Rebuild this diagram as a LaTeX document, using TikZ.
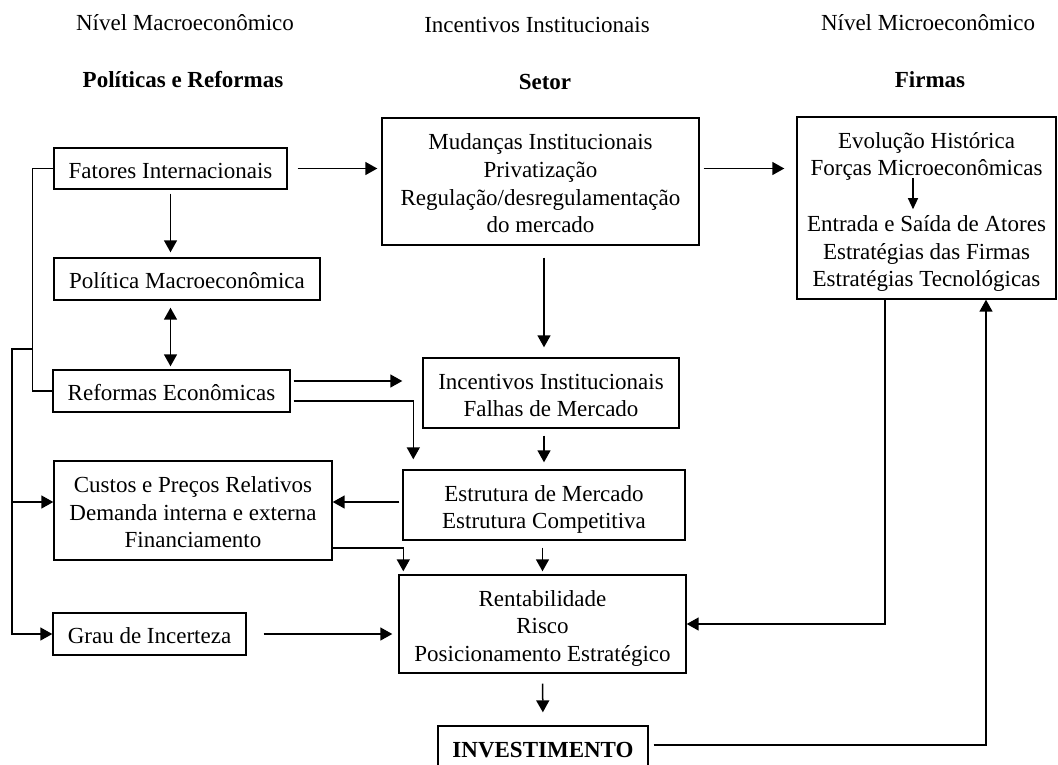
\documentclass[tikz,border=0pt]{standalone}
\usepackage{fontspec}
\setmainfont{Liberation Serif}
\usepackage{tikz}
\usetikzlibrary{arrows.meta, positioning, calc}
\usepackage{xcolor}
\definecolor{flowblack}{HTML}{000000}
\newcommand{\boxlines}[1]{\begin{tabular}{@{}c@{}}\rule{0pt}{28pt}#1\end{tabular}}

\begin{document}
\begin{tikzpicture}[
    x=1pt, y=-1pt,
    box/.style={
        rectangle,
        draw=flowblack,
        line width=1.4pt,
        inner sep=0pt,
        font=\fontsize{23}{27.6}\selectfont
    },
    plain/.style={
        inner sep=0pt,
        align=center,
        font=\fontsize{23}{27.6}\selectfont
    },
    heading/.style={
        inner sep=0pt,
        font=\fontsize{23}{27.6}\selectfont#1
    },
    link/.style={
        line width=1.4pt,
        draw=flowblack
    },
    arr/.style={
        -{Triangle[length=12pt, width=13pt]},
        line width=1.5pt,
        draw=flowblack
    },
    dbl/.style={
        {Triangle[length=12pt, width=13pt]}-{Triangle[length=12pt, width=13pt]},
        line width=1.5pt,
        draw=flowblack
    },
    smallarr/.style={
        -{Triangle[length=11pt, width=10pt]},
        line width=1.2pt,
        draw=flowblack
    }
]
\useasboundingbox (0,0) rectangle (1058,764);

% Headings
\node[heading] (macro) at (185,23) {Nível Macroeconômico};
\node[heading=\bfseries] (politicas) at (183,80) {Políticas e Reformas};
\node[heading] (incentivos) at (537,25) {Incentivos Institucionais};
\node[heading=\bfseries] (setor) at (545,82) {Setor};
\node[heading] (micro) at (928,23) {Nível Microeconômico};
\node[heading=\bfseries] (firmastitle) at (930,80) {Firmas};

% Macro boxes
\node[box, minimum width=233, minimum height=41] (fatores) at (170.5,168.5) {\boxlines{Fatores Internacionais}};
\node[box, minimum width=266, minimum height=42] (pol) at (187,279) {\boxlines{Política Macroeconômica}};
\node[box, minimum width=237, minimum height=42] (ref) at (171.5,391) {\boxlines{Reformas Econômicas}};
\node[box, minimum width=278, minimum height=99] (custos) at (193,510.5) {\boxlines{Custos e Preços Relativos\\Demanda interna e externa\\Financiamento}};
\node[box, minimum width=193, minimum height=42] (grau) at (149.5,634) {\boxlines{Grau de Incerteza}};

% Sector boxes
\node[box, minimum width=317, minimum height=127] (mud) at (540.5,181.5) {\boxlines{Mudanças Institucionais\\Privatização\\Regulação/desregulamentação\\do mercado}};
\node[box, minimum width=256, minimum height=70] (inc) at (551,393) {\boxlines{Incentivos Institucionais\\Falhas de Mercado}};
\node[box, minimum width=282, minimum height=70] (estr) at (544,505) {\boxlines{Estrutura de Mercado\\Estrutura Competitiva}};
\node[box, minimum width=287, minimum height=98] (rent) at (542.5,624) {\boxlines{Rentabilidade\\Risco\\Posicionamento Estratégico}};
\node[box, minimum width=210, minimum height=44, font=\fontsize{23}{27.6}\selectfont\bfseries] (inv) at (543,748) {\boxlines{INVESTIMENTO}};

% Firm box
\node[box, minimum width=259, minimum height=182] (firmas) at (926.5,208) {};
\node[plain] (forcas) at (926.5,156.5) {Evolução Histórica\\Forças Microeconômicas};
\node[plain] (atores) at (926.5,253.5) {Entrada e Saída de Atores\\Estratégias das Firmas\\Estratégias Tecnológicas};
\draw[smallarr, shorten >=6pt] ([xshift=-13.5pt, yshift=3pt]forcas.south) -- ([xshift=-13.5pt]atores.north);

% Left bracket and bus
\draw[link] (fatores.west) -- ++(-21,0) |- (ref.west);
\coordinate (busTop) at (33,349);
\coordinate (bus) at (12,349);
\coordinate (custosIn) at ([yshift=8.5pt]custos.west);
\draw[arr] (busTop) -- (bus) |- (grau.west);
\draw[arr] (custosIn -| bus) -- (custosIn);

% Macro column
\draw[arr, shorten <=4pt, shorten >=5pt] (fatores.south) -- (pol.north -| fatores.south);
\draw[dbl, shorten <=7pt, shorten >=3pt] (pol.south -| fatores.south) -- (ref.north -| fatores.south);

% Across the top
\draw[arr, shorten <=10pt, shorten >=4pt] (fatores.east) -- (fatores.east -| mud.west);
\draw[arr, shorten <=4pt, shorten >=12pt] (fatores.east -| mud.east) -- (fatores.east -| firmas.west);

% Reforms into sector
\coordinate (refA) at ([yshift=10pt]ref.east);
\coordinate (refB) at ([yshift=-10pt]ref.east);
\draw[arr, shorten <=3pt, shorten >=20pt] (refA) -- (refA -| inc.west);
\draw[arr, shorten <=3pt, shorten >=10pt] (refB) -| ([xshift=11pt]estr.north west);

% Sector column
\draw[arr, shorten <=12pt, shorten >=10pt] (mud.south -| estr.north) -- (inc.north -| estr.north);
\draw[arr, shorten <=7pt, shorten >=7pt] (inc.south -| estr.north) -- (estr.north);
\draw[arr, shorten <=7pt, shorten >=3pt] (estr.south -| rent.north) -- (rent.north);
\draw[arr, shorten <=10pt, shorten >=13pt] (rent.south) -- (inv.north);

% Into costs and profitability
\coordinate (estrOut) at ([yshift=3pt]estr.west);
\draw[arr, shorten <=3pt] (estrOut) -- (estrOut -| custos.east);
\coordinate (custosOut) at ([yshift=-37.5pt]custos.east);
\draw[arr, shorten >=3pt] (custosOut) -| ([xshift=5pt]rent.north west);
\draw[arr, shorten <=17pt, shorten >=6pt] (grau.east) -- (grau.east -| rent.west);

% Feedback with firms
\draw[arr] ([xshift=-41.5pt]firmas.south) |- (rent.east);
\coordinate (invOut) at ([yshift=3pt]inv.east);
\draw[arr, shorten <=5pt] (invOut) -| ([xshift=59.5pt]firmas.south);

\end{tikzpicture}
\end{document}
